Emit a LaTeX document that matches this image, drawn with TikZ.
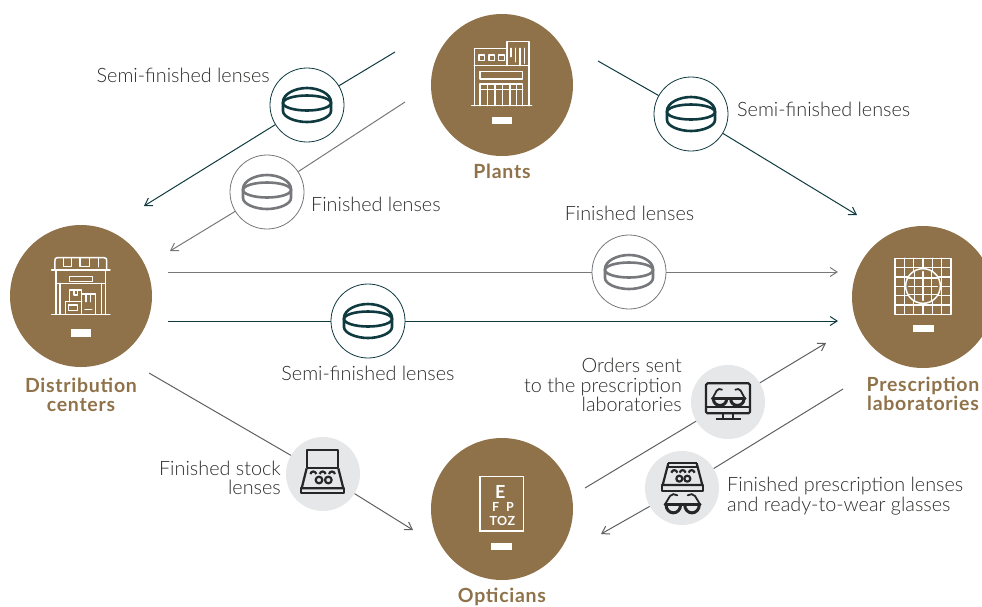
\documentclass[tikz,border=0pt]{standalone}
\usepackage{fontspec}
\setmainfont{Lato Light}[BoldFont=Lato Bold,BoldFeatures={LetterSpace=3.8}]
\usetikzlibrary{arrows.meta}
\definecolor{brownc}{HTML}{8F7249}
\definecolor{tealc}{HTML}{0F3A40}
\definecolor{grayc}{HTML}{77787B}
\definecolor{lightc}{HTML}{E6E7E8}
\definecolor{linec}{HTML}{5F6062}
\definecolor{textc}{HTML}{2B2B2A}
\definecolor{iconc}{HTML}{262626}
\tikzset{
 hub/.style={circle,fill=brownc,minimum size=142pt,inner sep=0pt},
 badgeT/.style={circle,draw=tealc,fill=white,line width=.8pt,minimum size=74pt,inner sep=0pt},
 badgeG/.style={circle,draw=grayc,fill=white,line width=.8pt,minimum size=74pt,inner sep=0pt},
 badgeL/.style={circle,fill=lightc,minimum size=74pt,inner sep=0pt},
 lnT/.style={draw=tealc,line width=1pt},
 lnG/.style={draw=grayc,line width=1pt},
 lnD/.style={draw=linec,line width=1pt},
 tip/.style={-{Straight Barb[length=7pt,width=9pt,line width=1pt]}},
 lab/.style={text=textc,font=\fontsize{19.8}{19.5}\selectfont,inner sep=0pt},
 hublab/.style={text=brownc,font=\fontsize{19.5}{19}\selectfont\bfseries,inner sep=0pt,align=center},
 bar/.style={fill=white,draw=none},
 wi/.style={draw=white,line width=1.5pt,line cap=round,line join=round},
 zoomed/.style={x=.33333pt,y=-.33333pt},
 ikon/.style={line width=2.2pt,draw=iconc,line join=round},
 frame/.style={line width=3pt,draw=iconc,line join=round,line cap=round},
 temple/.style={line width=1.8pt,draw=iconc,line cap=round},
 chart/.style={text=white,inner sep=0pt},
 lens/.pic={
  \draw[line width=2.6pt,pic actions] (-24,-3) .. controls (-24,-11) and (-12,-17) .. (0,-17) .. controls (12,-17) and (24,-11) .. (24,-3) -- (24,6) .. controls (24,12) and (12,17) .. (0,17) .. controls (-12,17) and (-24,12) .. (-24,6) -- cycle;
  \draw[line width=2.6pt,pic actions] (0,-2) ellipse (24 and 7.5);
 },
}
\begin{document}
\begin{tikzpicture}[x=1pt,y=-1pt]
\clip (0,0) rectangle (982,606);
% hubs
\node[hub] (plants) at (502,85) {};
\node[hub] (dist) at (81,296) {};
\node[hub] (presc) at (923,297) {};
\node[hub] (opt) at (502,509) {};
% badges
\node[badgeT] (b1) at (307,105) {};
\node[badgeG] (b2) at (267,192) {};
\node[badgeT] (b3) at (691,114) {};
\node[badgeG] (b4) at (629,272) {};
\node[badgeT] (b5) at (368,321) {};
\node[badgeL] (b6) at (728,402) {};
\node[badgeL] (b7) at (682,488) {};
\node[badgeL] (b8) at (323,474) {};
% connector ends
\coordinate (s1) at (395,52);  \coordinate (e1) at (144,206);
\coordinate (s2) at (405,102); \coordinate (e2) at (170,251);
\coordinate (s3) at (598,61);  \coordinate (e3) at (857,215);
\coordinate (s4) at (168,272); \coordinate (e4) at (838,272);
\coordinate (s5) at (168,321); \coordinate (e5) at (838,321);
\coordinate (s6) at (585,488); \coordinate (e6) at (826,343);
\coordinate (s7) at (843,389); \coordinate (e7) at (601,534);
\coordinate (s8) at (149,373); \coordinate (e8) at (413,530);
% connectors
\draw[lnT] (s1) -- (b1); \draw[lnT,tip] (b1) -- (e1);
\draw[lnG] (s2) -- (b2); \draw[lnG,tip] (b2) -- (e2);
\draw[lnT] (s3) -- (b3); \draw[lnT,tip] (b3) -- (e3);
\draw[lnG] (s4) -- (b4); \draw[lnG,tip] (b4) -- (e4);
\draw[lnT] (s5) -- (b5); \draw[lnT,tip] (b5) -- (e5);
\draw[lnD] (s6) -- (b6); \draw[lnD,tip] (b6) -- (e6);
\draw[lnD] (s7) -- (b7); \draw[lnD,tip] (b7) -- (e7);
\draw[lnD] (s8) -- (b8); \draw[lnD,tip] (b8) -- (e8);
% lens icons
\pic[draw=tealc] at (b1) {lens};
\pic[draw=grayc] at (b2) {lens};
\pic[draw=tealc] at (b3) {lens};
\pic[draw=grayc] at (b4) {lens};
\pic[draw=tealc] at (b5) {lens};
% white bars
\fill[bar] (492,117) rectangle (512,124);
\fill[bar] (71,329) rectangle (91,337);
\fill[bar] (913,325) rectangle (934,332);
\fill[bar] (491,543) rectangle (512,550);
% plants icon
\begin{scope}[shift={(430pt,0pt)},zoomed]
\draw[wi] (125,317) -- (305,317);
\draw[wi] (133,317) -- (133,145) -- (231,145);
\draw[wi] (231,197) -- (231,125) -- (297,125) -- (297,317);
\draw[wi] (133,197) -- (297,197);
\foreach \a in {147,177,206} \draw[wi] (\a,165) rectangle ++(17,17);
\draw[wi] (150,215) rectangle (278,237);
\draw[wi] (150,317) -- (150,252) -- (278,252) -- (278,317);
\draw[wi] (150,268) -- (278,268);
\foreach \a in {172,195,218,240,260} \draw[wi] (\a,252) -- (\a,317);
\draw[wi] (243,145) -- (243,170);
\draw[wi] (257,145) -- (257,185);
\draw[wi] (270,145) -- (270,197);
\draw[wi] (283,145) -- (283,190);
\end{scope}
% distribution icon
\begin{scope}[shift={(0pt,-220pt)},zoomed]
\draw[wi] (155,150) -- (330,150);
\draw[wi] (165,150) -- (165,122) .. controls (165,115) .. (172,113) -- (312,113) .. controls (320,115) .. (320,122) -- (320,150);
\draw[wi] (190,113) -- (190,140) -- (215,140) -- (215,113);
\draw[wi] (240,113) -- (240,140) -- (268,140) -- (268,113);
\draw[wi] (295,113) -- (295,140);
\draw[wi] (168,150) -- (168,283);
\draw[wi] (316,150) -- (316,283);
\draw[wi] (208,170) rectangle (278,185);
\draw[wi] (168,190) -- (316,190);
\draw[wi] (180,190) -- (180,283);
\draw[wi] (304,190) -- (304,283);
\draw[wi] (155,283) -- (330,283);
\draw[wi] (208,245) -- (208,210) -- (245,210) -- (245,283);
\draw[wi] (245,222) -- (287,222) -- (287,283);
\draw[wi] (197,283) -- (197,245) -- (245,245);
\draw[wi] (205,255) rectangle (232,272);
\draw[wi] (222,210) -- (222,225) -- (232,225) -- (232,210);
\draw[wi] (258,222) -- (258,245);
\draw[wi] (272,222) -- (272,245);
\draw[wi] (255,268) -- (275,268);
\end{scope}
% prescription icon
\begin{scope}[shift={(840pt,-220pt)},zoomed]
\draw[wi] (165,115) rectangle (333,283);
\foreach \a in {1,...,5} {
 \draw[wi] (165+\a*28,115) -- (165+\a*28,283);
 \draw[wi] (165,115+\a*28) -- (333,115+\a*28);
}
\fill[brownc] (249,198) circle [radius=52];
\draw[wi] (249,198) circle [radius=52];
\foreach \a in {224,249,274} {
 \draw[wi] (\a,155) -- (\a,241);
 \draw[wi] (206,\a-50) -- (292,\a-50);
}
\end{scope}
% opticians icon
\begin{scope}[shift={(420pt,-430pt)},zoomed]
\draw[wi,line cap=butt,line join=miter] (180,140) rectangle (310,303);
\node[chart,font=\fontsize{18}{18}\selectfont\bfseries] (chartE) at (241,185) {E};
\node[chart,font=\fontsize{12.5}{12}\selectfont\bfseries] (chartF) at (249,232) {F\hspace{7pt}P};
\node[chart,font=\fontsize{12.5}{12}\selectfont\bfseries\addfontfeatures{LetterSpace=18}] (chartT) at (247,272) {TOZ};
\end{scope}
% monitor + glasses icon, tray + glasses icon
\begin{scope}[shift={(640pt,-350pt)},zoomed]
\draw[ikon,rounded corners=1.5pt] (198,100) rectangle (330,190);
\draw[ikon] (198,172) -- (330,172);
\draw[ikon] (250,190) -- (250,208) (280,190) -- (280,208);
\draw[ikon] (227,208) -- (302,208);
\draw[frame] (220,146) .. controls (220,173) and (260,173) .. (260,146);
\draw[frame] (272,146) .. controls (272,173) and (312,173) .. (312,146);
\draw[frame] (217,146) -- (315,146);
\draw[temple] (217,146) -- (230,122) .. controls (234,116) and (240,116) .. (246,119);
\draw[temple] (315,146) -- (302,122) .. controls (298,116) and (292,116) .. (286,119);
% tray
\draw[ikon] (85,340) -- (170,340);
\draw[ikon] (85,352) -- (170,352);
\draw[ikon] (85,340) -- (68,405) -- (187,405) -- (170,340);
\draw[ikon] (65,405) rectangle (190,422);
\foreach \a in {103,128,155} \draw[ikon] (\a-9,368) .. controls (\a-6,358) and (\a+6,358) .. (\a+9,368);
\draw[ikon] (118,386) circle [radius=9];
\draw[ikon] (142,386) circle [radius=9];
% glasses
\draw[frame] (78,463) .. controls (78,497) and (122,497) .. (122,463);
\draw[frame] (134,463) .. controls (134,497) and (178,497) .. (178,463);
\draw[frame] (75,463) -- (180,463);
\draw[temple] (75,463) -- (90,438) .. controls (95,431) and (104,431) .. (112,436);
\draw[temple] (180,463) -- (165,438) .. controls (160,431) and (151,431) .. (143,436);
\end{scope}
\begin{scope}[shift={(270pt,-430pt)},zoomed]
\draw[ikon] (110,115) -- (110,60) -- (205,60) -- (205,115);
\draw[ikon] (110,115) -- (205,115);
\draw[ikon] (110,115) -- (95,175) -- (220,175) -- (205,115);
\draw[ikon] (92,175) rectangle (222,190);
\foreach \a in {130,158,186} \draw[ikon] (\a-9,132) .. controls (\a-6,122) and (\a+6,122) .. (\a+9,132);
\draw[ikon] (147,150) circle [radius=10];
\draw[ikon] (175,150) circle [radius=10];
\end{scope}
% labels
\node[lab,anchor=east] (l1) at (270,75) {Semi-finished lenses};
\node[lab,anchor=west] (l2) at (311,204) {Finished lenses};
\node[lab,anchor=west] (l3) at (737,109) {Semi-finished lenses};
\node[lab] (l4) at (629.5,213) {Finished lenses};
\node[lab] (l5) at (368,373) {Semi-finished lenses};
\node[lab,anchor=east,align=right] (l6) at (682,385) {Orders sent\\to the prescription\\laboratories};
\node[lab,anchor=west,align=left] (l7) at (727,496) {Finished prescription lenses\\and ready-to-wear glasses};
\node[lab,anchor=east,align=right] (l8) at (281,478) {Finished stock\\lenses};
\node[hublab] (h1) at (502,171) {Plants};
\node[hublab] (h2) at (81,394.5) {Distribution\\centers};
\node[hublab] (h3) at (923,394) {Prescription\\laboratories};
\node[hublab] (h4) at (502,596.5) {Opticians};
\end{tikzpicture}
\end{document}
